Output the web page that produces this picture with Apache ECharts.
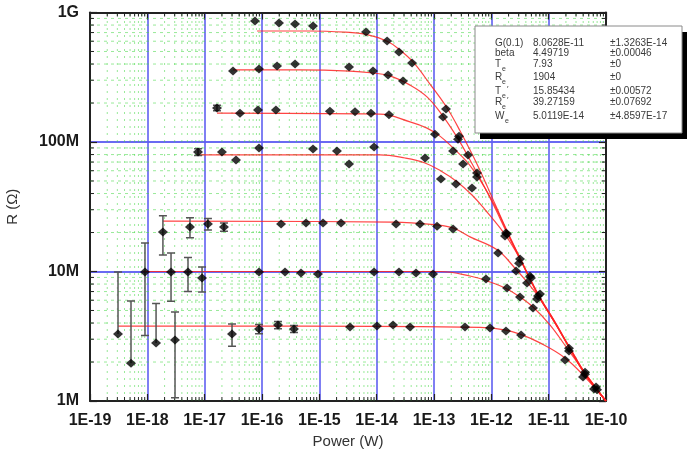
<!DOCTYPE html>
<html>
<head>
<meta charset="utf-8">
<title>R vs Power</title>
<script src="https://cdn.jsdelivr.net/npm/echarts/dist/echarts.min.js"></script>
<style>
  html, body { margin: 0; padding: 0; background: #ffffff; }
  #chart { width: 687px; height: 466px; }
</style>
</head>
<body>
<div id="chart"></div>
<script>
// ---- measured resistance vs. applied power, [power (W), R (ohm)] ----
const pointsA = [[7.55e-17, 8.6e8], [1.98e-16, 8.3e8], [3.77e-16, 8.15e8], [7.76e-16, 7.87e8], [6.52e-15, 7.07e8],
  [1.52e-14, 6.03e8], [2.45e-14, 4.95e8], [4.14e-14, 4.07e8], [1.62e-13, 1.8e8], [2.73e-13, 1.11e8], [5.62e-13, 5.77e7],
  [1.80e-12, 1.98e7], [3.16e-12, 1.25e7], [4.73e-12, 9.2e6], [7.06e-12, 6.7e6], [2.26e-11, 2.56e6], [4.31e-11, 1.67e6],
  [6.7e-11, 1.28e6]];
const pointsB = [[3.12e-17, 3.53e8], [8.87e-17, 3.66e8], [1.83e-16, 3.86e8], [3.77e-16, 4.0e8], [3.3e-15, 3.79e8],
  [8.63e-15, 3.53e8], [1.58e-14, 3.29e8], [2.88e-14, 2.96e8], [1.44e-13, 1.56e8], [2.62e-13, 1.05e8], [3.92e-13, 7.94e7],
  [5.62e-13, 5.37e7], [1.73e-12, 1.88e7], [3.04e-12, 1.16e7], [6.26e-12, 6.14e6], [2.26e-11, 2.43e6], [6.98e-11, 1.22e6]];
const pointsC = [[1.64e-17, 1.83e8], [4.13e-17, 1.67e8], [8.51e-17, 1.77e8], [1.75e-16, 1.77e8], [1.53e-15, 1.73e8],
  [4.19e-15, 1.71e8], [7.96e-15, 1.67e8], [1.64e-14, 1.62e8], [1.04e-13, 1.15e8], [2.15e-13, 8.53e7], [3.21e-13, 6.76e7],
  [1.88e-12, 1.95e7], [4.92e-12, 8.9e6]];
const pointsD = [[7.66e-18, 8.37e7], [2.0e-17, 8.37e7], [3.52e-17, 7.26e7], [8.87e-17, 9.0e7], [7.76e-16, 8.83e7],
  [2.03e-15, 8.53e7], [3.3e-15, 6.76e7], [9.0e-15, 9.14e7], [6.97e-14, 7.52e7], [1.32e-13, 5.18e7], [2.42e-13, 4.74e7],
  [4.6e-13, 4.41e7], [6.52e-12, 6.47e6], [4.31e-11, 1.61e6]];
const pointsE = [[1.87e-18, 2.02e7], [5.54e-18, 2.21e7], [1.14e-17, 2.33e7], [2.17e-17, 2.21e7], [2.15e-16, 2.33e7],
  [5.86e-16, 2.37e7], [1.16e-15, 2.37e7], [2.39e-15, 2.37e7], [2.18e-14, 2.33e7], [5.7e-14, 2.33e7], [1.13e-13, 2.24e7],
  [2.15e-13, 2.13e7], [1.31e-12, 1.39e7], [2.7e-12, 1.01e7], [4.19e-12, 8.15e6]];
const pointsF = [[9.1e-19, 9.9e6], [2.59e-18, 9.9e6], [5.12e-18, 9.9e6], [9.0e-18, 8.9e6], [8.87e-17, 9.9e6],
  [2.52e-16, 9.9e6], [4.79e-16, 9.72e6], [9.48e-16, 9.57e6], [9.0e-15, 9.9e6], [2.45e-14, 9.9e6], [4.85e-14, 9.72e6],
  [9.62e-14, 9.57e6], [8.07e-13, 8.75e6], [1.88e-12, 7.47e6], [3.16e-12, 6.35e6], [5.33e-12, 5.22e6]];
const pointsG = [[3.08e-19, 3.29e6], [5.19e-19, 1.96e6], [1.42e-18, 2.8e6], [3.04e-18, 2.96e6], [3.0e-17, 3.29e6],
  [8.87e-17, 3.6e6], [1.9e-16, 3.86e6], [3.61e-16, 3.6e6], [3.43e-15, 3.73e6], [1.01e-14, 3.79e6], [1.93e-14, 3.86e6],
  [3.82e-14, 3.73e6], [3.47e-13, 3.73e6], [9.48e-13, 3.66e6], [1.80e-12, 3.47e6], [3.3e-12, 3.24e6], [1.93e-11, 2.07e6],
  [3.97e-11, 1.53e6], [6.18e-11, 1.24e6]];

// ---- error bars: [power (W), R (ohm), sigma (ohm)] ----
const errBars = [[3.08e-19, 3.29e6, 6.6e6], [5.19e-19, 1.96e6, 3.96e6], [9.1e-19, 9.9e6, 6.7e6], [1.42e-18, 2.8e6, 2.85e6],
  [1.87e-18, 2.02e7, 6.8e6], [2.59e-18, 9.9e6, 4.0e6], [3.04e-18, 2.96e6, 1.9e6], [5.12e-18, 9.9e6, 2.9e6],
  [5.54e-18, 2.21e7, 3.9e6], [7.66e-18, 8.37e7, 5e6], [9.0e-18, 8.9e6, 1.95e6], [1.14e-17, 2.33e7, 2.4e6],
  [1.64e-17, 1.83e8, 9e6], [2.17e-17, 2.21e7, 1.6e6], [3.0e-17, 3.29e6, 6.4e5], [8.87e-17, 3.6e6, 3e5],
  [1.9e-16, 3.86e6, 2.5e5], [3.61e-16, 3.6e6, 2.2e5]];

// ---- fitted model curves, [power (W), R (ohm)] ----
const fitA = [[8.2e-17, 7.2e8], [6.9e-16, 7.2e8], [2.8e-15, 7.05e8], [6.3e-15, 6.8e8], [1.52e-14, 6.0e8], [2.55e-14, 5.13e8],
  [4.31e-14, 4.15e8], [8.5e-14, 2.8e8], [1.69e-13, 1.83e8], [2.84e-13, 1.22e8], [5.86e-13, 6.5e7], [1.16e-12, 3.32e7],
  [1.88e-12, 2.06e7], [3.16e-12, 1.27e7], [6.52e-12, 6.7e6], [1.29e-11, 4.07e6], [2.36e-11, 2.56e6], [4.31e-11, 1.64e6],
  [1e-10, 1e6]];
const fitB = [[3.12e-17, 3.6e8], [4.6e-16, 3.6e8], [3.43e-15, 3.53e8], [8.63e-15, 3.41e8], [1.71e-14, 3.24e8], [3.82e-14, 2.75e8],
  [7.55e-14, 2.23e8], [1.38e-13, 1.62e8], [2.52e-13, 1.09e8], [4.25e-13, 7.26e7], [7.76e-13, 4.41e7], [1.16e-12, 3.09e7],
  [1.88e-12, 1.98e7], [3.16e-12, 1.25e7], [6.52e-12, 6.6e6], [1.29e-11, 4.0e6], [2.36e-11, 2.52e6], [4.31e-11, 1.61e6],
  [1e-10, 1e6]];
const fitC = [[1.64e-17, 1.67e8], [1.14e-14, 1.64e8], [3.82e-14, 1.43e8], [7.55e-14, 1.28e8], [1.27e-13, 1.11e8], [2.15e-13, 9.0e7],
  [3.77e-13, 7.02e7], [6.35e-13, 5.09e7], [1.16e-12, 3.21e7], [1.88e-12, 2.02e7], [3.16e-12, 1.27e7], [6.52e-12, 6.7e6],
  [1.29e-11, 4.07e6], [2.36e-11, 2.56e6], [4.31e-11, 1.64e6], [1e-10, 1e6]];
const fitD = [[7.34e-18, 7.94e7], [1.14e-14, 7.94e7], [3.12e-14, 7.52e7], [6.97e-14, 6.89e7], [1.32e-13, 5.97e7], [2.42e-13, 5.0e7],
  [4.6e-13, 3.9e7], [8.41e-13, 2.88e7], [1.42e-12, 2.17e7], [2.12e-12, 1.69e7], [3.16e-12, 1.25e7], [6.52e-12, 6.6e6],
  [1.29e-11, 4.0e6], [2.36e-11, 2.52e6], [4.31e-11, 1.61e6], [1e-10, 1e6]];
const fitE = [[1.87e-18, 2.45e7], [1.93e-14, 2.41e7], [1.13e-13, 2.29e7], [2.15e-13, 2.17e7], [4.25e-13, 1.85e7], [1.26e-12, 1.47e7],
  [2.59e-12, 1.06e7], [4.19e-12, 8.3e6], [6.52e-12, 6.47e6], [1.29e-11, 4.0e6], [2.36e-11, 2.52e6], [4.31e-11, 1.61e6],
  [1e-10, 1e6]];
const fitF = [[8.4e-19, 1.0e7], [1.27e-13, 1.0e7], [4.25e-13, 9.23e6], [9.48e-13, 8.3e6], [1.88e-12, 7.33e6], [3.16e-12, 6.35e6],
  [5.33e-12, 5.32e6], [1.06e-11, 3.86e6], [2.09e-11, 2.56e6], [4.31e-11, 1.64e6], [1e-10, 1e6]];
const fitG = [[3.08e-19, 3.79e6], [4.6e-16, 3.79e6], [6.35e-13, 3.7e6], [1.80e-12, 3.53e6], [3.43e-12, 3.24e6],
  [7.06e-12, 2.81e6], [1.93e-11, 2.15e6], [4.31e-11, 1.53e6], [1e-10, 1e6]];

// ---- axis ranges and tick labels ----
const powerRange = [1e-19, 1e-10];
const resistanceRange = [1e6, 1e9];
const resistanceLabels = { 6: '1M', 7: '10M', 8: '100M', 9: '1G' };

// ---- fit parameter table ----
const paramNames = ['G(0.1)', 'beta', 'T', 'R', 'T', 'R', 'W'];
const paramSubs = ['', '', 'e', 'e', 'e', 'e', 'e'];
const paramPrimes = [false, false, false, false, true, true, false];
const paramValues = ['8.0628E-11', '4.49719', '7.93', '1904', '15.85434', '39.27159', '5.0119E-14'];
const paramErrors = ['\u00b11.3263E-14', '\u00b10.00046', '\u00b10', '\u00b10', '\u00b10.00572', '\u00b10.07692', '\u00b14.8597E-17'];

const FONT = "'Liberation Sans', Arial, Helvetica, sans-serif";

// minor positions (2..9 within each decade) for the dotted grid
function minorSteps(lo, hi) {
  const out = [];
  for (let e = Math.round(Math.log10(lo)); e < Math.round(Math.log10(hi)); e++) {
    for (let m = 2; m <= 9; m++) out.push(m * Math.pow(10, e));
  }
  return out;
}
const minorX = minorSteps(powerRange[0], powerRange[1]).map(v => [v, resistanceRange[0]]);
const minorY = minorSteps(resistanceRange[0], resistanceRange[1]).map(v => [powerRange[0], v]);

const chart = echarts.init(document.getElementById('chart'), null, { renderer: 'canvas' });

const fitStyle = { color: 'rgba(255,35,35,0.85)', width: 1.2 };
function fitSeries(data) {
  return {
    type: 'line', data, showSymbol: false, smooth: 0.4,
    lineStyle: fitStyle, z: 3, silent: true
  };
}
function pointSeries(data) {
  return {
    type: 'scatter', data, symbol: 'diamond', symbolSize: [10, 9],
    itemStyle: { color: '#000000' }, z: 5, silent: true
  };
}

const legendX = 475, legendY = 26, legendW = 207, legendH = 107;
const rowY = [43, 53, 64, 77, 91, 102, 116];
const graphics = [
  { type: 'rect', shape: { x: legendX + 5, y: legendY + 6, width: legendW, height: legendH }, style: { fill: '#000' }, z: 100 },
  { type: 'rect', shape: { x: legendX, y: legendY, width: legendW, height: legendH }, style: { fill: '#fff', stroke: '#8a8a8a', lineWidth: 1 }, z: 101 }
];
paramNames.forEach((name, i) => {
  const y = rowY[i];
  const txt = (t, x, yy, size) => ({
    type: 'text', z: 102,
    style: { text: t, x, y: yy, font: size + 'px ' + FONT, fill: '#3a3a3a', verticalAlign: 'middle', textVerticalAlign: 'middle' }
  });
  graphics.push(txt(name, 495, y, 10));
  if (paramSubs[i]) {
    const w = name === 'W' ? 10 : 7;
    graphics.push(txt(paramSubs[i], 495 + w, y + 5, 7));
    if (paramPrimes[i]) graphics.push(txt('\u2032', 495 + w + 5, y - 2, 8));
  }
  graphics.push(txt(paramValues[i], 533, y, 10));
  graphics.push(txt(paramErrors[i], 610, y, 10));
});

const option = {
  animation: false,
  backgroundColor: '#ffffff',
  grid: { left: 90, right: 81, top: 12.5, bottom: 65, containLabel: false, outerBoundsMode: 'none' },
  xAxis: [{
    type: 'log', logBase: 10, min: powerRange[0], max: powerRange[1],
    name: 'Power (W)', nameLocation: 'middle', nameGap: 31,
    nameTextStyle: { fontFamily: FONT, fontSize: 15, color: '#333' },
    axisLine: { show: true, lineStyle: { color: '#222', width: 2 } },
    axisTick: { show: true, inside: true, length: 7, lineStyle: { color: '#222', width: 1.2 } },
    axisLabel: {
      margin: 12, fontFamily: FONT, fontSize: 16, fontWeight: 'bold', color: '#1a1a1a',
      formatter: v => '1E' + Math.round(Math.log10(v))
    },
    splitLine: { show: true, lineStyle: { color: 'rgba(95,95,240,0.8)', width: 2 } }
  }, {
    type: 'log', logBase: 10, min: powerRange[0], max: powerRange[1], position: 'top',
    axisLine: { show: true, lineStyle: { color: '#222', width: 2 } },
    axisTick: { show: true, inside: true, length: 7, lineStyle: { color: '#222', width: 1.2 } },
    axisLabel: { show: false }, splitLine: { show: false }
  }],
  yAxis: [{
    type: 'log', logBase: 10, min: resistanceRange[0], max: resistanceRange[1],
    name: 'R (\u03a9)', nameLocation: 'middle', nameGap: 70, nameRotate: 90,
    nameTextStyle: { fontFamily: FONT, fontSize: 15, color: '#333' },
    axisLine: { show: true, lineStyle: { color: '#222', width: 2 } },
    axisTick: { show: true, inside: true, length: 7, lineStyle: { color: '#222', width: 1.2 } },
    axisLabel: {
      margin: 11, fontFamily: FONT, fontSize: 16, fontWeight: 'bold', color: '#1a1a1a',
      formatter: v => resistanceLabels[Math.round(Math.log10(v))] || ''
    },
    splitLine: { show: true, lineStyle: { color: 'rgba(80,80,240,0.85)', width: 2 } }
  }, {
    type: 'log', logBase: 10, min: resistanceRange[0], max: resistanceRange[1], position: 'right',
    axisLine: { show: true, lineStyle: { color: '#222', width: 2 } },
    axisTick: { show: true, inside: true, length: 7, lineStyle: { color: '#222', width: 1.2 } },
    axisLabel: { show: false }, splitLine: { show: false }
  }],
  graphic: graphics,
  series: [
    // dotted minor grid + minor ticks along power axis
    {
      type: 'custom', data: minorX, silent: true, z: 1, clip: false,
      renderItem: (params, api) => {
        const v = api.value(0);
        const b = api.coord([v, resistanceRange[0]]);
        const t = api.coord([v, resistanceRange[1]]);
        return {
          type: 'group', children: [
            { type: 'line', shape: { x1: b[0], y1: b[1], x2: t[0], y2: t[1] },
              style: { stroke: 'rgba(70,215,70,0.55)', lineWidth: 1, lineDash: [2, 5] } },
            { type: 'line', shape: { x1: b[0], y1: b[1], x2: b[0], y2: b[1] - 4 }, style: { stroke: '#222', lineWidth: 1 } },
            { type: 'line', shape: { x1: t[0], y1: t[1], x2: t[0], y2: t[1] + 4 }, style: { stroke: '#222', lineWidth: 1 } }
          ]
        };
      }
    },
    // dotted minor grid + minor ticks along resistance axis
    {
      type: 'custom', data: minorY, silent: true, z: 1, clip: false,
      renderItem: (params, api) => {
        const v = api.value(1);
        const l = api.coord([powerRange[0], v]);
        const r = api.coord([powerRange[1], v]);
        return {
          type: 'group', children: [
            { type: 'line', shape: { x1: l[0], y1: l[1], x2: r[0], y2: r[1] },
              style: { stroke: 'rgba(70,215,70,0.55)', lineWidth: 1, lineDash: [3, 4] } },
            { type: 'line', shape: { x1: l[0], y1: l[1], x2: l[0] + 4, y2: l[1] }, style: { stroke: '#222', lineWidth: 1 } },
            { type: 'line', shape: { x1: r[0], y1: r[1], x2: r[0] - 4, y2: r[1] }, style: { stroke: '#222', lineWidth: 1 } }
          ]
        };
      }
    },
    // error bars (lower half omitted where R - sigma is not positive)
    {
      type: 'custom', data: errBars, silent: true, z: 4, clip: true,
      encode: { x: 0, y: 1 },
      renderItem: (params, api) => {
        const p = api.value(0), r = api.value(1), s = api.value(2);
        const top = api.coord([p, r + s]);
        const mid = api.coord([p, r]);
        const hasLow = r - s > 0;
        const bot = hasLow ? api.coord([p, r - s]) : mid;
        const st = { stroke: '#555555', lineWidth: 1.5 };
        const kids = [
          { type: 'line', shape: { x1: top[0], y1: top[1], x2: bot[0], y2: bot[1] }, style: st },
          { type: 'line', shape: { x1: top[0] - 4, y1: top[1], x2: top[0] + 4, y2: top[1] }, style: st }
        ];
        if (hasLow) kids.push({ type: 'line', shape: { x1: bot[0] - 4, y1: bot[1], x2: bot[0] + 4, y2: bot[1] }, style: st });
        return { type: 'group', children: kids };
      }
    },
    fitSeries(fitA), fitSeries(fitB), fitSeries(fitC), fitSeries(fitD), fitSeries(fitE), fitSeries(fitF), fitSeries(fitG),
    pointSeries(pointsA), pointSeries(pointsB), pointSeries(pointsC), pointSeries(pointsD),
    pointSeries(pointsE), pointSeries(pointsF), pointSeries(pointsG)
  ]
};

chart.setOption(option);
</script>
</body>
</html>
